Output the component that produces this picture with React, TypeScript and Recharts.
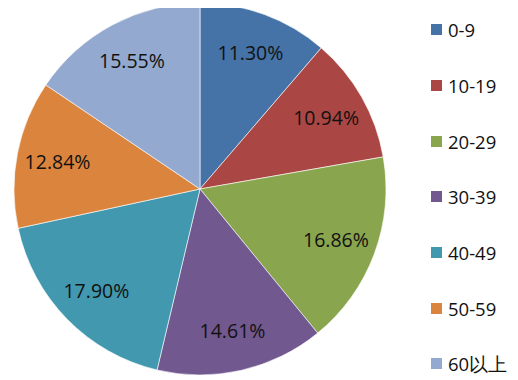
import React from "react";
import { PieChart, Pie, Cell, Legend } from "recharts";

const categories = ["0-9", "10-19", "20-29", "30-39", "40-49", "50-59", "60以上"];
const shares = [11.3, 10.94, 16.86, 14.61, 17.9, 12.84, 15.55];
const colors = ["#4572A7", "#AA4643", "#89A54E", "#71588F", "#4198AF", "#DB843D", "#93A9CF"];

const data = categories.map((name, i) => ({ name, value: shares[i] }));
const RAD = Math.PI / 180;
const FONT = "'Open Sans', 'DejaVu Sans', sans-serif";

const renderLabel = (props: any) => {
  const { cx, cy, midAngle, outerRadius, value } = props;
  const r = outerRadius * 0.78;
  const x = cx + r * Math.cos(-midAngle * RAD);
  const y = cy + r * Math.sin(-midAngle * RAD);
  return (
    <text
      x={x}
      y={y}
      fill="#111111"
      textAnchor="middle"
      dominantBaseline="central"
      fontSize={19.5}
      fontFamily={FONT}
    >
      {`${Number(value).toFixed(2)}%`}
    </text>
  );
};

const LegendContent = () => (
  <div style={{ fontFamily: FONT, fontSize: 18.5, color: "#111111" }}>
    {categories.map((c, i) => (
      <div
        key={c}
        style={{ display: "flex", alignItems: "center", height: 55.7, whiteSpace: "nowrap" }}
      >
        <span
          style={{
            display: "inline-block",
            width: 11,
            height: 11,
            background: colors[i],
            marginRight: 6,
          }}
        />
        <span>{c}</span>
      </div>
    ))}
  </div>
);

export default function App() {
  return (
    <PieChart width={510} height={372} margin={{ top: 0, right: 0, bottom: 0, left: 0 }}>
      <Pie
        data={data}
        dataKey="value"
        nameKey="name"
        cx={192}
        cy={181}
        outerRadius={186}
        startAngle={90}
        endAngle={-270}
        stroke="#ffffff"
        strokeWidth={0.6}
        label={renderLabel}
        labelLine={false}
        isAnimationActive={false}
      >
        {data.map((d, i) => (
          <Cell key={d.name} fill={colors[i]} />
        ))}
      </Pie>
      <Legend
        content={<LegendContent />}
        wrapperStyle={{ position: "absolute", left: 423, top: -6, width: 90 }}
      />
    </PieChart>
  );
}
